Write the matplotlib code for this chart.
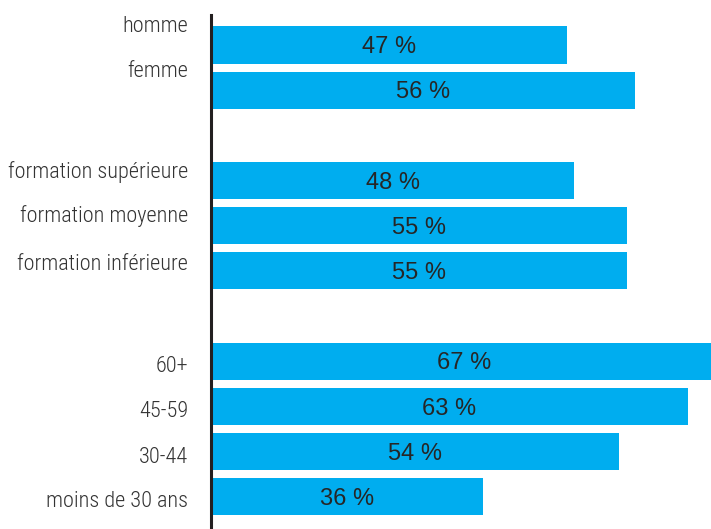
import numpy as np
import matplotlib
matplotlib.use('Agg')
import matplotlib.pyplot as plt

#%% data
labels = ['homme', 'femme',
          'formation supérieure', 'formation moyenne', 'formation inférieure',
          '60+', '45-59', '30-44', 'moins de 30 ans']
values = [47, 56, 48, 55, 55, 67, 63, 54, 36]
rows = [0, 1, 3, 4, 5, 7, 8, 9, 10]          # row index, empty rows between groups
label_base = [-0.29, 0.71, 2.94, 3.92, 4.98, 7.23, 8.23, 9.25, 10.22]  # baseline of category text

bar_col = '#00adef'

#%% figure
fig = plt.figure(figsize=(7.11, 5.29), dpi=100)
ax = fig.add_axes([211/711, 0, 1 - 211/711, 1 - 15/529])

ax.barh(rows, values, height=0.82, color=bar_col, zorder=1)
ax.set_xlim(0, 66.1)
ax.set_ylim(10.71, -0.664)

for r, v in zip(rows, values):
    ax.annotate('%d %%' % v, xy=(v/2, r), xytext=(0, -5.8), textcoords='offset points',
                ha='center', va='baseline', fontsize=17, color='#262626',
                family=['Liberation Sans', 'DejaVu Sans'])

for lab, yb in zip(labels, label_base):
    ax.annotate(lab, xy=(0, yb), xycoords=('axes fraction', 'data'),
                xytext=(-16.5, 0), textcoords='offset points',
                ha='right', va='baseline', fontsize=16, color='#333333', weight='light',
                family=['Roboto Condensed', 'DejaVu Sans'], annotation_clip=False)

for s in ['top', 'right', 'bottom']:
    ax.spines[s].set_visible(False)
ax.spines['left'].set_linewidth(2.2)
ax.spines['left'].set_color('#231f20')
ax.spines['left'].set_zorder(3)
ax.set_xticks([])
ax.set_yticks([])

fig.savefig('out.png', dpi=100)
